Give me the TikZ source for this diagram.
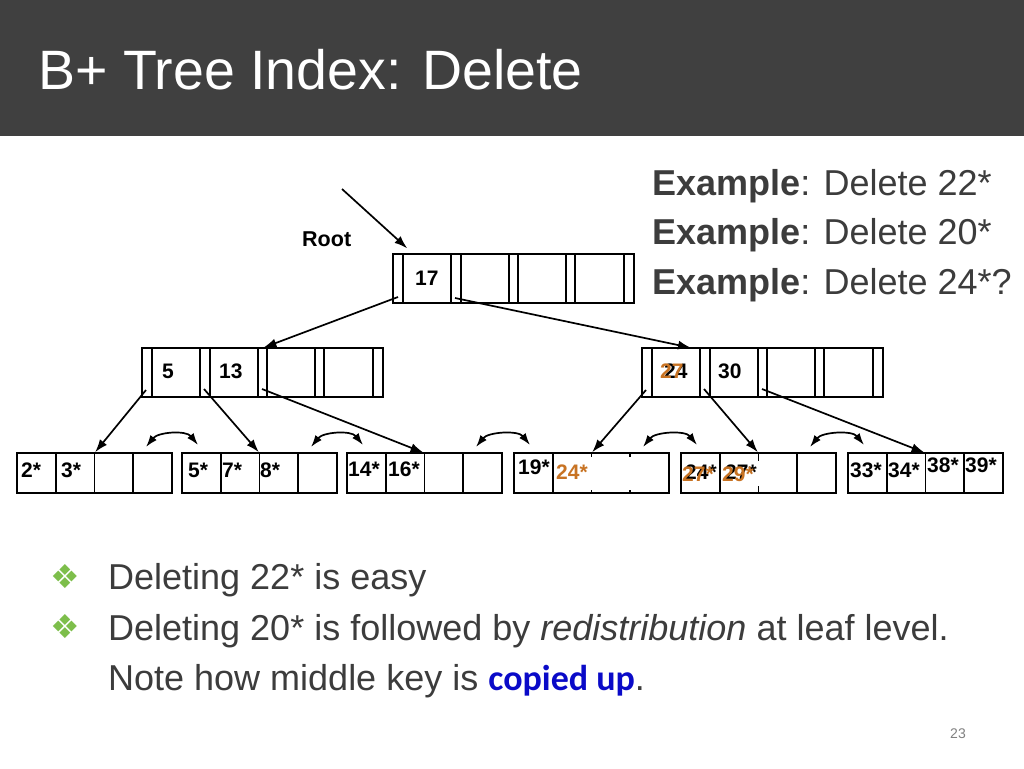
\documentclass[tikz,border=0pt]{standalone}
\usepackage{fontspec}
\setmainfont{Liberation Sans}
\newfontfamily\cbfont{Carlito}
\newfontfamily\symfont{DejaVu Sans}
\usetikzlibrary{arrows.meta,calc}
\definecolor{hdr}{HTML}{404040}
\definecolor{txt}{HTML}{3C3C3C}
\definecolor{org}{RGB}{200,115,35}
\definecolor{bgreen}{RGB}{125,190,75}
\definecolor{cblue}{RGB}{10,10,200}
\definecolor{pg}{HTML}{808080}
\begin{document}
\begin{tikzpicture}[x=1pt,y=-1pt,
  box/.style={draw=black, line width=1.8pt, inner sep=0pt, outer sep=0pt, anchor=north west},
  inbox/.style={box, minimum width=241pt, minimum height=49pt},
  leafbox/.style={box, minimum width=155pt, minimum height=40pt},
  key/.style={inner sep=0pt, anchor=base west, font=\bfseries\fontsize{21}{21}\selectfont},
  okey/.style={key, text=org},
  ptr/.style={line width=1.7pt, shorten >=1pt, -{Latex[length=13pt,width=9pt]}},
  sib/.style={line width=1.7pt, {Latex[length=12pt,width=8pt]}-{Latex[length=12pt,width=8pt]}},
  divline/.style={line width=1.8pt},
  big/.style={inner sep=0pt, anchor=base west, text=txt, font=\fontsize{36}{36}\selectfont},
]
\useasboundingbox (0,0) rectangle (1024,768);
% header
\fill[hdr] (0,0) rectangle (1024,136);
\node[inner sep=0pt, anchor=base west, text=white, font=\fontsize{55.5}{55.5}\selectfont] (title) at (38,89) {B+ Tree Index: Delete};

% examples
\node[big] (ex1) at (652,195) {\textbf{Example}: Delete 22*};
\node[big] (ex2) at (652,244) {\textbf{Example}: Delete 20*};
\node[big] (ex3) at (652,294) {\textbf{Example}: Delete 24*?};

% root
\node[inner sep=0pt, anchor=base west, font=\bfseries\fontsize{21.5}{21.5}\selectfont] (rootlbl) at (302,246) {Root};
\node[inbox] (root) at (393,254) {};
\node[inbox] (L2a) at (142,348) {};
\node[inbox] (L2b) at (642,348) {};
\foreach \n in {root,L2a,L2b}{
  \foreach \o in {10,58,68,116,125,173,182,231}{
    \draw[divline] ($(\n.north west)+(\o,0)$) -- ($(\n.south west)+(\o,0)$);
  }
}
\node[key] (k17) at (415,285) {17};
\node[key] (k5) at (162,378) {5};
\node[key] (k13) at (219,378) {13};
\node[key] (k24) at (664,378) {24};
\node[okey] (k27) at (660,378) {27};
\node[key] (k30) at (718,378) {30};

% leaves
\node[leafbox] (leaf1) at (17,453) {};
\node[leafbox] (leaf2) at (182,453) {};
\node[leafbox] (leaf3) at (347,453) {};
\node[leafbox] (leaf4) at (514,453) {};
\node[leafbox] (leaf5) at (681,453) {};
\node[leafbox] (leaf6) at (848,453) {};
\foreach \n in {leaf1,leaf2,leaf3,leaf4,leaf5,leaf6}{
  \foreach \o in {38.75,77.5,116.25}{
    \draw[divline] ($(\n.north west)+(\o,0)$) -- ($(\n.south west)+(\o,0)$);
  }
}
% white overlays from the edited leaves
\fill[white] (555,457) rectangle (667,489.5);
\fill[white] (757.5,461) rectangle (762,486);

\node[key] (l1a) at (21,477) {2*};
\node[key] (l1b) at (61,477) {3*};
\node[key] (l2a) at (188,477) {5*};
\node[key] (l2b) at (222,477) {7*};
\node[key] (l2c) at (260,477) {8*};
\node[key] (l3a) at (348,476) {14*};
\node[key] (l3b) at (388,476) {16*};
\node[key] (l4a) at (518,474) {19*};
\node[okey] (l4b) at (556,479) {24*};
\node[key] (l5a) at (685,479) {24*};
\node[key] (l5b) at (725,479) {27*};
\node[okey] (l5c) at (682,481) {27*};
\node[okey] (l5d) at (722,481) {29*};
\node[key] (l6a) at (850,477) {33*};
\node[key] (l6b) at (888,477) {34*};
\node[key] (l6c) at (927,472) {38*};
\node[key] (l6d) at (965,472) {39*};

% pointer coordinates
\coordinate (rootsrc) at (342,189);
\coordinate (roottip) at (408,249);
\coordinate (rp0) at ($(root.south west)+(5,-6)$);
\coordinate (rp1) at ($(root.south west)+(62,-5)$);
\coordinate (L2btip) at ($(L2b.north west)+(50,0)$);
\coordinate (ap0) at ($(L2a.south west)+(4,-7)$);
\coordinate (ap1) at ($(L2a.south west)+(62,-8)$);
\coordinate (ap2) at ($(L2a.south west)+(120,-8)$);
\coordinate (bp0) at ($(L2b.south west)+(4,-7)$);
\coordinate (bp1) at ($(L2b.south west)+(62,-8)$);
\coordinate (bp2) at ($(L2b.south west)+(120,-8)$);

\draw[ptr] (rootsrc) -- (roottip);
\draw[ptr] (rp0) -- (L2a.north);
\draw[ptr] (rp1) -- (L2btip);
\draw[ptr] (ap0) -- (leaf1.north);
\draw[ptr] (ap1) -- (leaf2.north);
\draw[ptr] (ap2) -- (leaf3.north);
\draw[ptr] (bp0) -- (leaf4.north);
\draw[ptr] (bp1) -- (leaf5.north);
\draw[ptr] (bp2) -- (leaf6.north);

% sibling links
\foreach \a/\b in {leaf1/leaf2,leaf2/leaf3,leaf3/leaf4,leaf4/leaf5,leaf5/leaf6}{
  \draw[sib] ($(\a.north east)+(-26,-6)$) .. controls +(12,-15) and +(-12,-15) .. ($(\b.north west)+(16,-8)$);
}

% bullets
\node[inner sep=0pt, anchor=base west, text=bgreen, font=\symfont\fontsize{33}{33}\selectfont] (b1) at (50,588) {❖};
\node[inner sep=0pt, anchor=base west, text=bgreen, font=\symfont\fontsize{33}{33}\selectfont] (b2) at (50,638.5) {❖};
\node[big] (t1) at (108,589.5) {Deleting 22* is easy};
\node[big] (t2) at (108,640) {Deleting 20* is followed by \textit{redistribution} at leaf level.};
\node[big] (t3) at (108,690) {Note how middle key is {\cbfont\bfseries\textcolor{cblue}{copied up}}.};

\node[inner sep=0pt, anchor=base west, text=pg, font=\fontsize{14}{14}\selectfont] (pgno) at (950,738) {23};
\end{tikzpicture}
\end{document}
